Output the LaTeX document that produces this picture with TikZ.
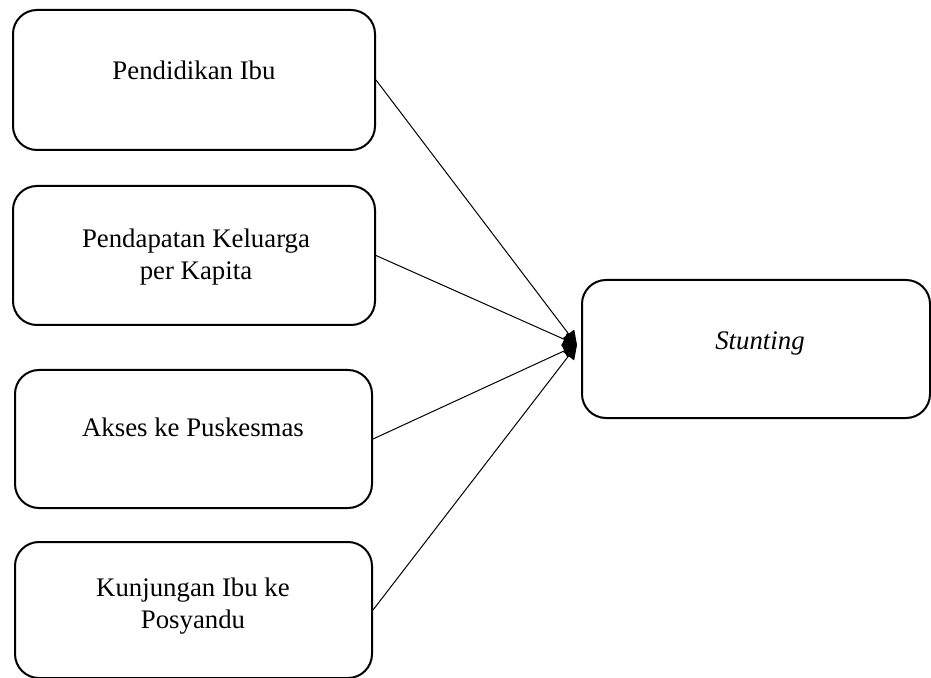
\documentclass[tikz,border=0pt]{standalone}
\usepackage{fontspec}
\setmainfont{Liberation Serif}
\usetikzlibrary{arrows.meta}

\begin{document}
\begin{tikzpicture}[x=0.5pt,y=-0.5pt,
	factor/.style={draw, line width=1pt, rounded corners=12pt, inner sep=0pt},
	lbl/.style={font=\fontsize{13.4}{16}\selectfont, align=center, anchor=base, inner sep=0pt},
	arr/.style={line width=0.5pt, -{Triangle[length=7pt,width=7pt]}}]
	\useasboundingbox (0,0) rectangle (931,678);
	% boxes
	\node[factor, minimum width=181pt, minimum height=70pt] (pend) at (194,80) {};
	\node[factor, minimum width=181pt, minimum height=69.5pt] (pdpt) at (194,255.5) {};
	\node[factor, minimum width=178.5pt, minimum height=69pt] (akses) at (193.5,439) {};
	\node[factor, minimum width=178.5pt, minimum height=68pt] (kunj) at (193.5,610) {};
	\node[factor, minimum width=174pt, minimum height=69pt] (stunt) at (756,349) {};
	% texts
	\node[lbl] (tpend) at (194,80) {Pendidikan Ibu};
	\node[lbl] (tpdpt) at (196,280) {Pendapatan Keluarga\\per Kapita};
	\node[lbl] (takses) at (193,437) {Akses ke Puskesmas};
	\node[lbl] (tkunj) at (193,628) {Kunjungan Ibu ke\\Posyandu};
	\node[lbl] (tstunt) at (760,350) {\itshape Stunting};
	% arrows
	\coordinate (tip) at ([xshift=-2pt,yshift=2pt]stunt.west);
	\draw[arr] (pend.east) -- (tip);
	\draw[arr] (pdpt.east) -- (tip);
	\draw[arr] (akses.east) -- (tip);
	\draw[arr] (kunj.east) -- (tip);
\end{tikzpicture}
\end{document}
